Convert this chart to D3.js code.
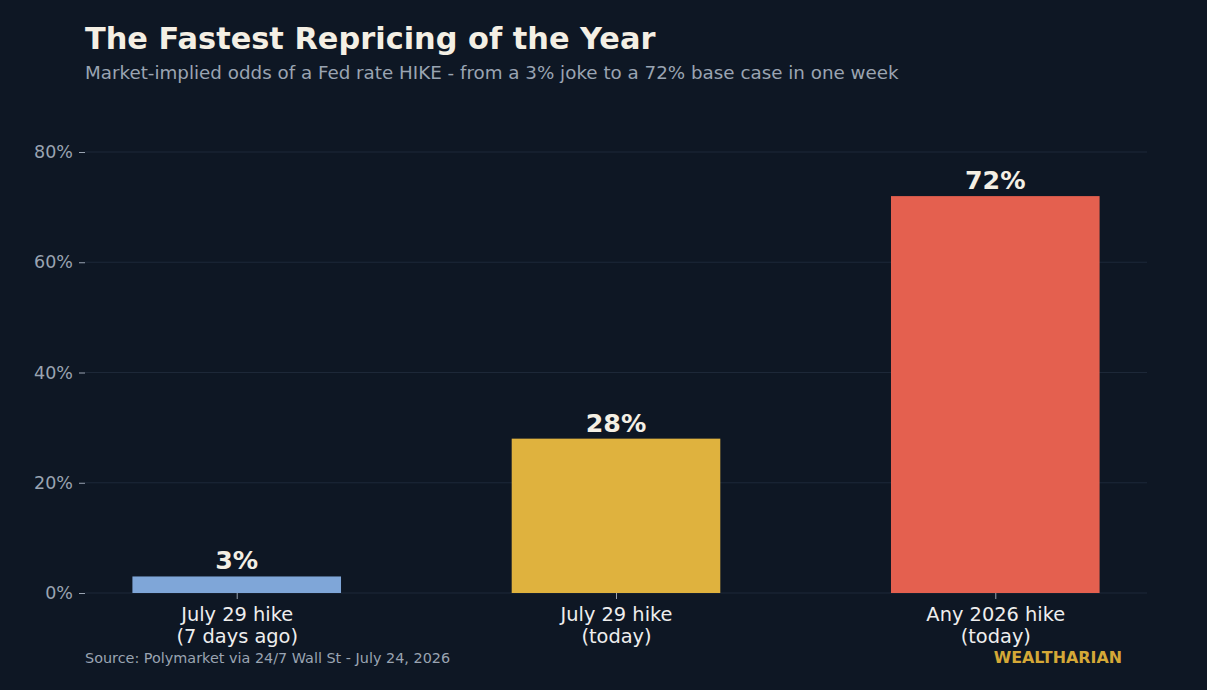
<!DOCTYPE html>
<html><head><meta charset="utf-8">
<script src="https://cdn.jsdelivr.net/npm/d3@7"></script>
<style>
html,body{margin:0;padding:0;background:#0e1724;}
svg{display:block;font-family:"DejaVu Sans",sans-serif;}
</style></head>
<body><svg id="c" width="1207" height="690"></svg>
<script>
const categories = ["July 29 hike\n(7 days ago)", "July 29 hike\n(today)", "Any 2026 hike\n(today)"];
const values = [3, 28, 72];
const barColors = ["#7fa6d8", "#dfb23e", "#e4604f"];
const yTicks = [0, 20, 40, 60, 80];
const titleText = "The Fastest Repricing of the Year";
const subtitleText = "Market-implied odds of a Fed rate HIKE - from a 3% joke to a 72% base case in one week";
const sourceText = "Source: Polymarket via 24/7 Wall St - July 24, 2026";
const brandText = "WEALTHARIAN";

(function() {
const svg = d3.select("#c");
const W = 1207, H = 690;
svg.append("rect").attr("width", W).attr("height", H).attr("fill", "#0e1724");

const pLeft = 85, pRight = 1147, pTop = 152, pBottom = 593;
const x = d3.scalePoint().domain(categories).range([pLeft, pRight]).padding(0.4);
const y = d3.scaleLinear().domain([0, 80]).range([pBottom, pTop]);
const bw = x.step() * 0.55;

// gridlines
svg.append("g").selectAll("line").data(yTicks).join("line")
  .attr("x1", pLeft).attr("x2", pRight)
  .attr("y1", d => y(d)).attr("y2", d => y(d))
  .attr("stroke", "#1d2838").attr("stroke-width", 1.2);

// y axis
const yAxis = svg.append("g").attr("transform", `translate(${pLeft},0)`)
  .call(d3.axisLeft(y).tickValues(yTicks).tickFormat(d => d + "%").tickSize(6).tickPadding(6));
yAxis.select(".domain").remove();
yAxis.selectAll(".tick line").attr("stroke", "#9aa4b2");
yAxis.selectAll(".tick text").attr("fill", "#9aa4b2").attr("font-size", 17.5)
  .attr("font-family", "DejaVu Sans, sans-serif");

// bars
svg.append("g").selectAll("rect").data(values).join("rect")
  .attr("x", (d, i) => x(categories[i]) - bw / 2)
  .attr("width", bw)
  .attr("y", d => y(d))
  .attr("height", d => y(0) - y(d))
  .attr("fill", (d, i) => barColors[i]);

// value labels
svg.append("g").selectAll("text").data(values).join("text")
  .attr("x", (d, i) => x(categories[i]))
  .attr("y", d => y(d) - 7)
  .attr("text-anchor", "middle")
  .attr("fill", "#f4efe4").attr("font-weight", "bold").attr("font-size", 25.3)
  .text(d => d + "%");

// x axis
const xAxis = svg.append("g").attr("transform", `translate(0,${pBottom})`)
  .call(d3.axisBottom(x).tickSize(6).tickFormat(""));
xAxis.select(".domain").remove();
xAxis.selectAll(".tick line").attr("stroke", "#9aa4b2");
xAxis.selectAll(".tick").each(function(d) {
  const lines = d.split("\n");
  const t = d3.select(this).append("text").attr("text-anchor", "middle")
    .attr("fill", "#eeeeee").attr("font-size", 19.4).attr("font-family", "DejaVu Sans, sans-serif");
  lines.forEach((l, i) => t.append("tspan").attr("x", 0).attr("y", 28 + i * 22).text(l));
});

// titles
svg.append("text").attr("x", 85).attr("y", 49).attr("fill", "#f4efe4")
  .attr("font-weight", "bold").attr("font-size", 30.4).text(titleText);
svg.append("text").attr("x", 85).attr("y", 79).attr("fill", "#9aa4b2")
  .attr("font-size", 18.3).text(subtitleText);

// footer
svg.append("text").attr("x", 85).attr("y", 663).attr("fill", "#9aa4b2")
  .attr("font-size", 14.4).text(sourceText);
svg.append("text").attr("x", 1122).attr("y", 663).attr("text-anchor", "end").attr("fill", "#d4a837")
  .attr("font-weight", "bold").attr("font-size", 15.9).text(brandText);
})();
</script></body></html>
